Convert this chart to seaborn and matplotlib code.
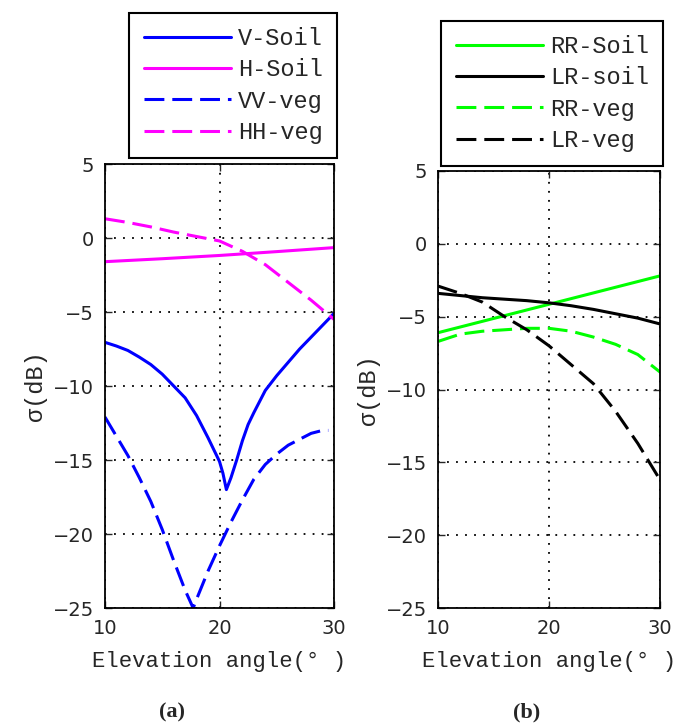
import matplotlib
matplotlib.use("Agg")
import matplotlib.pyplot as plt
import numpy as np
import pandas as pd
import seaborn as sns

# ---- data ----
# panel (a)
v_soil_x = [10, 11, 12, 13, 14, 15, 16, 17, 18, 19, 19.5, 20, 20.3, 20.6, 21, 21.5, 22, 22.5, 23, 24, 25, 26, 27, 28, 29, 30]
v_soil_y = [-7.05, -7.3, -7.6, -8.05, -8.55, -9.2, -10.0, -10.8, -12.0, -13.5, -14.3, -15.1, -15.9, -17.0,
            -16.2, -15.0, -13.7, -12.6, -11.8, -10.3, -9.3, -8.4, -7.5, -6.7, -5.9, -5.1]
h_soil_x = [10, 15, 20, 25, 30]
h_soil_y = [-1.6, -1.4, -1.18, -0.92, -0.65]
vv_veg_x = [10, 11, 12, 13, 14, 15, 16, 17, 17.7, 18, 19, 20, 20.5, 21, 22, 23, 24, 25, 26, 27, 28, 29, 29.5]
vv_veg_y = [-12.1, -13.4, -14.7, -16.2, -17.8, -19.7, -21.8, -23.8, -25.0, -24.4, -22.5, -20.8, -20.0,
            -19.2, -17.7, -16.3, -15.3, -14.6, -14.0, -13.6, -13.2, -13.0, -13.0]
hh_veg_x = [10, 12, 14, 16, 18, 20, 22, 24, 26, 28, 30]
hh_veg_y = [1.3, 1.05, 0.75, 0.4, 0.1, -0.2, -0.9, -1.8, -3.0, -4.2, -5.5]

# panel (b)
rr_soil_x = [10, 20, 30]
rr_soil_y = [-6.1, -4.15, -2.2]
lr_soil_x = [10, 12, 14, 16, 18, 20, 22, 24, 26, 28, 30]
lr_soil_y = [-3.4, -3.55, -3.7, -3.8, -3.9, -4.05, -4.25, -4.5, -4.8, -5.1, -5.5]
rr_veg_x = [10, 12, 14, 16, 18, 20, 22, 24, 26, 28, 29, 30]
rr_veg_y = [-6.7, -6.2, -6.0, -5.9, -5.8, -5.8, -6.0, -6.4, -6.9, -7.6, -8.2, -8.8]
lr_veg_x = [10, 12, 14, 16, 18, 20, 22, 24, 26, 28, 30]
lr_veg_y = [-2.9, -3.4, -4.0, -5.0, -5.9, -7.0, -8.3, -9.6, -11.5, -13.7, -16.2]

xticks = [10, 20, 30]
yticks = [5, 0, -5, -10, -15, -20, -25]

sns.set_style("ticks")
plt.rcParams["font.family"] = ["DejaVu Sans"]

mono = "Liberation Mono"
dash = (0, (6.5, 2.6))
lw = 2.2

fig = plt.figure(figsize=(6.8, 7.27), dpi=100)
W, H = 680, 727
ax1 = fig.add_axes([105 / W, 1 - 608 / H, (334 - 105) / W, (608 - 164) / H])
ax2 = fig.add_axes([438 / W, 1 - 608 / H, (660 - 438) / W, (608 - 171) / H])

panel_a = [
    ("V-Soil", v_soil_x, v_soil_y, "#0000ff", "-"),
    ("H-Soil", h_soil_x, h_soil_y, "#ff00ff", "-"),
    ("VV-veg", vv_veg_x, vv_veg_y, "#0000ff", dash),
    ("HH-veg", hh_veg_x, hh_veg_y, "#ff00ff", dash),
]
panel_b = [
    ("RR-Soil", rr_soil_x, rr_soil_y, "#00ff00", "-"),
    ("LR-soil", lr_soil_x, lr_soil_y, "#000000", "-"),
    ("RR-veg", rr_veg_x, rr_veg_y, "#00ff00", dash),
    ("LR-veg", lr_veg_x, lr_veg_y, "#000000", dash),
]

for ax, series, anchor in [(ax1, panel_a, (1.013, 1.0135)), (ax2, panel_b, (1.0135, 1.0115))]:
    for name, xs, ys, col, ls in series:
        df = pd.DataFrame({"x": xs, "y": ys})
        sns.lineplot(data=df, x="x", y="y", ax=ax, color=col, linestyle=ls,
                     linewidth=lw, label=name, clip_on=True)
    ax.set_xlim(10, 30)
    ax.set_ylim(-25, 5)
    ax.set_xticks(xticks)
    ax.set_yticks(yticks)
    ax.grid(True, color="black", linestyle=(0, (1, 4)), linewidth=1.3)
    ax.tick_params(direction="in", length=5, width=1, top=True, right=True,
                   labelsize=14, pad=8)
    for sp in ax.spines.values():
        sp.set_linewidth(1.3)
        sp.set_color("black")
    ax.set_xlabel("Elevation angle(° )", fontfamily=mono, fontsize=16, labelpad=9)
    ax.set_ylabel("σ(dB)", fontfamily=mono, fontsize=17, labelpad=4)
    leg = ax.legend(loc="lower right", bbox_to_anchor=anchor, borderaxespad=0,
                    fancybox=False, framealpha=1, edgecolor="black",
                    prop={"family": mono, "size": 17}, handlelength=3.7,
                    handletextpad=0.3, labelspacing=0.35, borderpad=0.6)
    leg.get_frame().set_linewidth(1.5)

fig.text(172 / W, 1 - 712 / H, "(a)", ha="center", va="center",
         fontfamily="Liberation Serif", fontweight="bold", fontsize=16)
fig.text(527 / W, 1 - 712 / H, "(b)", ha="center", va="center",
         fontfamily="Liberation Serif", fontweight="bold", fontsize=16)

fig.savefig("out.png", dpi=100, facecolor="white")
